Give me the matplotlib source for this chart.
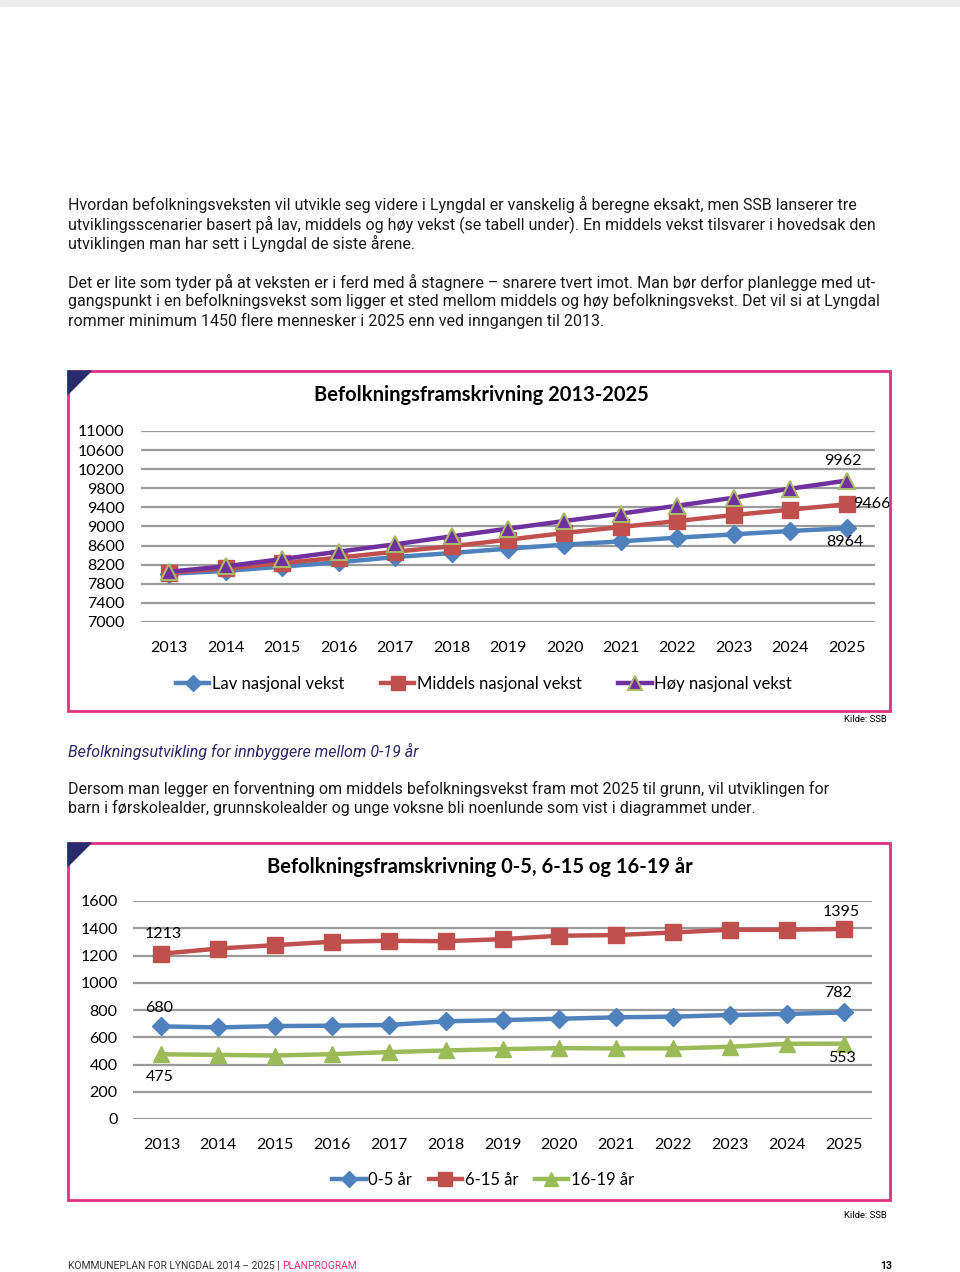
import matplotlib
matplotlib.use("Agg")
import matplotlib.pyplot as plt
from matplotlib.patches import Rectangle, Polygon

# data
years = [str(y) for y in range(2013, 2026)]
lav = [8010, 8070, 8160, 8250, 8360, 8445, 8536, 8620, 8689, 8766, 8836, 8906, 8964]
middels = [8030, 8124, 8236, 8347, 8473, 8585, 8724, 8864, 8990, 9115, 9241, 9353, 9466]
hoy = [8054, 8166, 8319, 8473, 8627, 8794, 8955, 9115, 9269, 9436, 9603, 9792, 9962]
ticks1 = list(range(7000, 11001, 400))

age_0_5 = [680, 672, 682, 685, 690, 717, 726, 736, 746, 751, 763, 771, 782]
age_6_15 = [1213, 1251, 1276, 1301, 1308, 1305, 1320, 1345, 1350, 1369, 1389, 1389, 1395]
age_16_19 = [475, 471, 466, 476, 491, 503, 513, 520, 518, 518, 530, 552, 553]
ticks2 = list(range(0, 1601, 200))

W, H = 960, 1272
body_font = ["Roboto", "DejaVu Sans"]
chart_font = ["Lato", "DejaVu Sans"]
pink = "#e0307e"
navy = "#2b2a6a"

fig = plt.figure(figsize=(9.6, 12.72), dpi=100)
renderer = fig.canvas.get_renderer()


def fx(x):
    return x / W


def fy(y):
    return 1 - y / H


def ptext(x, y, s, **kw):
    return fig.text(fx(x), fy(y), s, **kw)


# grey band at the top of the page
fig.patches.append(Rectangle((0, fy(6)), 1, 6 / H, transform=fig.transFigure,
                             color="#ececec", zorder=0))

body = [
    (204, "Hvordan befolkningsveksten vil utvikle seg videre i Lyngdal er vanskelig å beregne eksakt, men SSB lanserer tre"),
    (224, "utviklingsscenarier basert på lav, middels og høy vekst (se tabell under). En middels vekst tilsvarer i hovedsak den"),
    (243, "utviklingen man har sett i Lyngdal de siste årene."),
    (282, "Det er lite som tyder på at veksten er i ferd med å stagnere – snarere tvert imot. Man bør derfor planlegge med ut-"),
    (301, "gangspunkt i en befolkningsvekst som ligger et sted mellom middels og høy befolkningsvekst. Det vil si at Lyngdal"),
    (321, "rommer minimum 1450 flere mennesker i 2025 enn ved inngangen til 2013."),
    (789, "Dersom man legger en forventning om middels befolkningsvekst fram mot 2025 til grunn, vil utviklingen for"),
    (808, "barn i førskolealder, grunnskolealder og unge voksne bli noenlunde som vist i diagrammet under."),
]
# size the body text so the first line spans the same width as on the page (68..853 px)
probe = ptext(68, 204, body[0][1], fontsize=11, family=body_font)
w = probe.get_window_extent(renderer).width
probe.remove()
body_size = 11 * 785 / w

for y, s in body:
    ptext(68, y, s, fontsize=body_size, family=body_font, color="#1a1a1a", va="center")

ptext(68, 751, "Befolkningsutvikling for innbyggere mellom 0-19 år", fontsize=body_size,
      family=body_font, style="italic", color=navy, va="center")


def frame(top, bottom):
    fig.patches.append(Rectangle((fx(68), fy(bottom)), fx(890) - fx(68), fy(top) - fy(bottom),
                                 transform=fig.transFigure, fill=False, edgecolor=pink,
                                 linewidth=2, zorder=1))
    fig.patches.append(Polygon([(fx(68), fy(top)), (fx(91), fy(top)), (fx(68), fy(top + 23))],
                               closed=True, transform=fig.transFigure, color=navy, zorder=2))


def setup_axes(ax, ticks, ypad):
    ax.set_xlim(-0.5, 12.5)
    ax.set_ylim(ticks[0], ticks[-1])
    ax.set_yticks(ticks)
    ax.set_xticks(range(13))
    ax.set_xticklabels(years)
    ax.grid(axis="y", color="#9a9a9a", linewidth=1.6)
    ax.set_axisbelow(True)
    for sp in ax.spines.values():
        sp.set_visible(False)
    ax.tick_params(length=0, labelsize=11.5, colors="black")
    ax.tick_params(axis="x", pad=14)
    ax.tick_params(axis="y", pad=ypad)
    for lab in ax.get_xticklabels() + ax.get_yticklabels():
        lab.set_family(chart_font)


def label(ax, s, xy, off):
    ax.annotate(s, xy, xytext=off, textcoords="offset points", ha="center", va="center",
                fontsize=11.5, family=chart_font)


x = list(range(13))

# chart 1
frame(371, 711)
ptext(481, 395, "Befolkningsframskrivning 2013-2025", fontsize=14.5, family=chart_font,
      weight="bold", ha="center", va="center")
ax1 = fig.add_axes([fx(141), fy(622), fx(875) - fx(141), (622 - 431) / H])
l1, = ax1.plot(x, lav, color="#4f81bd", lw=3.2, marker="D", ms=9, label="Lav nasjonal vekst", clip_on=False)
l2, = ax1.plot(x, middels, color="#c0504d", lw=3.2, marker="s", ms=11, label="Middels nasjonal vekst", clip_on=False)
l3, = ax1.plot(x, hoy, color="#7030a0", lw=3.2, marker="^", ms=11, mfc="#7030a0", mec="#a9b86a",
               mew=1.5, label="Høy nasjonal vekst", clip_on=False)
setup_axes(ax1, ticks1, 12)
label(ax1, str(hoy[-1]), (12, hoy[-1]), (-3, 14))
label(ax1, str(middels[-1]), (12, middels[-1]), (18, 0))
label(ax1, str(lav[-1]), (12, lav[-1]), (-1, -10))
fig.legend(handles=[l1, l2, l3], loc="center", bbox_to_anchor=(fx(484), fy(684)), ncol=3,
           frameon=False, prop={"family": chart_font, "size": 12}, handlelength=2.0,
           handletextpad=0.15, columnspacing=2.2, markerscale=0.9)
ptext(887, 719, "Kilde: SSB", fontsize=6.8, family=body_font, ha="right", va="center")

# chart 2
frame(843, 1200)
ptext(480, 867, "Befolkningsframskrivning 0-5, 6-15 og 16-19 år", fontsize=14.5, family=chart_font,
      weight="bold", ha="center", va="center")
ax2 = fig.add_axes([fx(133), fy(1119), fx(872) - fx(133), (1119 - 901) / H])
m1, = ax2.plot(x, age_0_5, color="#4f81bd", lw=3.2, marker="D", ms=9, label="0-5 år", clip_on=False)
m2, = ax2.plot(x, age_6_15, color="#c0504d", lw=3.2, marker="s", ms=11, label="6-15 år", clip_on=False)
m3, = ax2.plot(x, age_16_19, color="#9bbb59", lw=3.2, marker="^", ms=11, label="16-19 år", clip_on=False)
setup_axes(ax2, ticks2, 11)
label(ax2, str(age_6_15[0]), (0, age_6_15[0]), (1, 14))
label(ax2, str(age_6_15[-1]), (12, age_6_15[-1]), (-2, 12))
label(ax2, str(age_0_5[0]), (0, age_0_5[0]), (-2, 13))
label(ax2, str(age_0_5[-1]), (12, age_0_5[-1]), (-4, 14))
label(ax2, str(age_16_19[0]), (0, age_16_19[0]), (-1, -16))
label(ax2, str(age_16_19[-1]), (12, age_16_19[-1]), (-1, -10))
fig.legend(handles=[m1, m2, m3], loc="center", bbox_to_anchor=(fx(483), fy(1180)), ncol=3,
           frameon=False, prop={"family": chart_font, "size": 12}, handlelength=2.0,
           handletextpad=0.15, columnspacing=1.0, markerscale=0.9)
ptext(887, 1215, "Kilde: SSB", fontsize=6.8, family=body_font, ha="right", va="center")

# footer
foot = ptext(68, 1266, "KOMMUNEPLAN FOR LYNGDAL 2014 – 2025 | ", fontsize=7.4, family=body_font,
             va="center", color="#333333")
fw = foot.get_window_extent(renderer).width
ptext(68 + fw, 1266, "PLANPROGRAM", fontsize=7.4, family=body_font, va="center", color=pink)
ptext(892, 1266, "13", fontsize=7.4, family=body_font, weight="bold", ha="right", va="center")

fig.savefig("out.png", dpi=100, facecolor="white")
